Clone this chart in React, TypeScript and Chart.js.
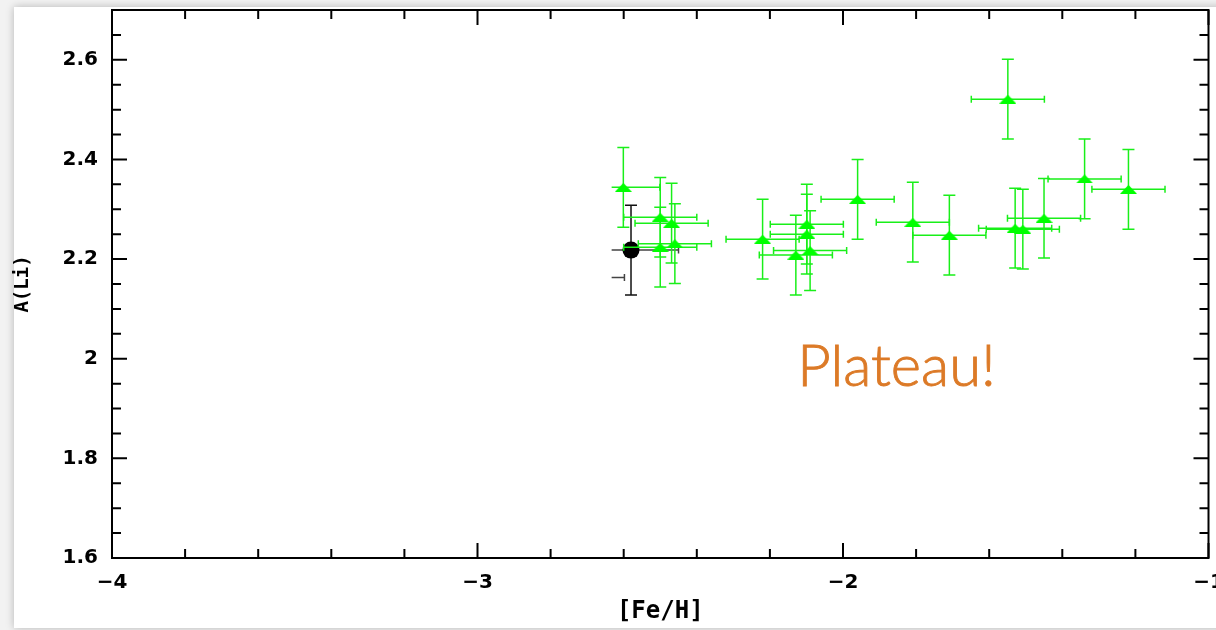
import React, { useEffect, useRef } from "react";
import { Chart, registerables } from "chart.js";

Chart.register(...registerables);

// ---- data ----
const greenFeH = [-2.601, -2.5, -2.469, -2.5, -2.46, -2.22, -2.129, -2.099, -2.099, -2.09, -1.96, -1.549, -1.809, -1.709, -1.529, -1.508, -1.45, -1.339, -1.219];
const greenALi = [2.344, 2.284, 2.272, 2.224, 2.231, 2.24, 2.208, 2.27, 2.25, 2.217, 2.32, 2.521, 2.274, 2.248, 2.262, 2.26, 2.282, 2.361, 2.34];
const greenFeHErr = [0.1, 0.1, 0.1, 0.1, 0.1, 0.1, 0.1, 0.1, 0.1, 0.1, 0.1, 0.1, 0.1, 0.1, 0.1, 0.1, 0.1, 0.1, 0.1];
const greenALiErr = [0.08, 0.08, 0.08, 0.08, 0.08, 0.08, 0.08, 0.08, 0.08, 0.08, 0.08, 0.08, 0.08, 0.08, 0.08, 0.08, 0.08, 0.08, 0.08];

const blackFeH = [-2.58, -2.728];
const blackALi = [2.218, 2.163];
const blackFeHErr = [0.13, 0.13];
const blackALiErr = [0.09, 0.09];
const blackRadius = [8.5, 0];

// the original plot crops everything left of this [Fe/H]
const clipFeH = -2.633;

const xMin = -4;
const xMax = -1;
const yMin = 1.6;
const yMax = 2.7;
const xTickValues = [-4, -3, -2, -1];
const xTickLabels = ["\u22124", "\u22123", "\u22122", "\u22121"];
const yTickValues = [1.6, 1.8, 2.0, 2.2, 2.4, 2.6];
const yTickLabels = ["1.6", "1.8", "2", "2.2", "2.4", "2.6"];
const xMinorStep = 0.2;
const yMinorStep = 0.05;

const xTitle = "[Fe/H]";
const yTitle = "A(Li)";
const noteText = "Plateau!";
const noteFeH = -2.125;
const noteALi = 1.946;

const errorBarPlugin = {
  id: "errorBars",
  beforeDatasetDraw(chart: any, args: any) {
    const ds = chart.data.datasets[args.index];
    if (!ds.errX) return;
    const { ctx, chartArea } = chart;
    const x = chart.scales.x;
    const y = chart.scales.y;
    const left = Math.max(chartArea.left, x.getPixelForValue(clipFeH));
    ctx.save();
    ctx.beginPath();
    ctx.rect(left, chartArea.top, chartArea.right - left, chartArea.bottom - chartArea.top);
    ctx.clip();
    ctx.lineWidth = 1.5;
    ds.data.forEach((p: any, i: number) => {
      const px = x.getPixelForValue(p.x);
      const py = y.getPixelForValue(p.y);
      const x0 = x.getPixelForValue(p.x - ds.errX[i]);
      const x1 = x.getPixelForValue(p.x + ds.errX[i]);
      const y0 = y.getPixelForValue(p.y - ds.errY[i]);
      const y1 = y.getPixelForValue(p.y + ds.errY[i]);
      ctx.strokeStyle = ds.errColorX;
      ctx.beginPath();
      ctx.moveTo(x0, py);
      ctx.lineTo(x1, py);
      ctx.moveTo(x0, py - 3.5);
      ctx.lineTo(x0, py + 3.5);
      ctx.moveTo(x1, py - 3.5);
      ctx.lineTo(x1, py + 3.5);
      ctx.stroke();
      ctx.strokeStyle = ds.errColorY;
      ctx.beginPath();
      ctx.moveTo(px, y0);
      ctx.lineTo(px, y1);
      ctx.moveTo(px - 6, y0);
      ctx.lineTo(px + 6, y0);
      ctx.moveTo(px - 6, y1);
      ctx.lineTo(px + 6, y1);
      ctx.stroke();
    });
    ctx.restore();
  },
};

const framePlugin = {
  id: "frame",
  afterDraw(chart: any) {
    const { ctx, chartArea } = chart;
    const x = chart.scales.x;
    const y = chart.scales.y;
    const { left, right, top, bottom } = chartArea;
    ctx.save();
    ctx.strokeStyle = "#000";
    ctx.lineWidth = 2;
    ctx.strokeRect(left, top, right - left, bottom - top);
    ctx.beginPath();
    const nx = Math.round((xMax - xMin) / xMinorStep);
    for (let k = 0; k <= nx; k++) {
      const v = xMin + k * xMinorStep;
      const major = Math.abs(v - Math.round(v)) < 1e-6;
      const len = major ? 15 : 9;
      const px = x.getPixelForValue(v);
      ctx.moveTo(px, bottom);
      ctx.lineTo(px, bottom - len);
      ctx.moveTo(px, top);
      ctx.lineTo(px, top + len);
    }
    const ny = Math.round((yMax - yMin) / yMinorStep);
    for (let k = 0; k <= ny; k++) {
      const v = yMin + k * yMinorStep;
      const major = k % 4 === 0;
      const len = major ? 15 : 9;
      const py = y.getPixelForValue(v);
      ctx.moveTo(left, py);
      ctx.lineTo(left + len, py);
      ctx.moveTo(right, py);
      ctx.lineTo(right - len, py);
    }
    ctx.stroke();
    ctx.restore();
  },
  afterDatasetsDraw(chart: any) {
    const { ctx } = chart;
    const x = chart.scales.x;
    const y = chart.scales.y;
    ctx.save();
    ctx.fillStyle = "#dc7a27";
    ctx.strokeStyle = "#dc7a27";
    ctx.lineWidth = 0.9;
    ctx.font = "300 58px Lato, 'Liberation Sans', sans-serif";
    ctx.textAlign = "left";
    ctx.textBaseline = "alphabetic";
    const tx = x.getPixelForValue(noteFeH);
    const ty = y.getPixelForValue(noteALi);
    ctx.fillText(noteText, tx, ty);
    ctx.strokeText(noteText, tx, ty);
    ctx.restore();
  },
};

function makeTriangle(): HTMLCanvasElement {
  const c = document.createElement("canvas");
  c.width = 17;
  c.height = 9;
  const g = c.getContext("2d")!;
  g.fillStyle = "#00ff00";
  g.beginPath();
  g.moveTo(0, 9);
  g.lineTo(8.5, 0);
  g.lineTo(17, 9);
  g.closePath();
  g.fill();
  return c;
}

export default function App() {
  const ref = useRef<HTMLCanvasElement | null>(null);

  useEffect(() => {
    if (!ref.current) return;
    const tri = makeTriangle();
    const zeroPad = (s: any) => {
      s.paddingLeft = 0;
      s.paddingRight = 0;
      s.paddingTop = 0;
      s.paddingBottom = 0;
    };
    const chart = new Chart(ref.current, {
      type: "scatter",
      data: {
        datasets: [
          {
            label: "green",
            data: greenFeH.map((v, i) => ({ x: v, y: greenALi[i] })),
            pointStyle: tri as any,
            pointRadius: 8,
            backgroundColor: "#00ff00",
            borderColor: "#00ff00",
            errX: greenFeHErr,
            errY: greenALiErr,
            errColorX: "#19ef19",
            errColorY: "#19ef19",
          } as any,
          {
            label: "black",
            data: blackFeH.map((v, i) => ({ x: v, y: blackALi[i] })),
            pointStyle: "circle",
            pointRadius: blackRadius,
            borderWidth: 0,
            backgroundColor: "#000",
            borderColor: "#000",
            errX: blackFeHErr,
            errY: blackALiErr,
            errColorX: "#444",
            errColorY: "#111",
          } as any,
        ],
      },
      options: {
        animation: false,
        responsive: false,
        events: [],
        layout: { padding: { left: 0, top: 10, right: 27.5, bottom: 0 } },
        plugins: { legend: { display: false }, tooltip: { enabled: false } },
        scales: {
          x: {
            type: "linear",
            min: xMin,
            max: xMax,
            grid: { display: false, drawTicks: false },
            border: { display: false },
            afterBuildTicks: (s: any) => {
              s.ticks = xTickValues.map((v) => ({ value: v }));
            },
            afterFit: (s: any) => {
              s.height = 72;
              zeroPad(s);
            },
            ticks: {
              autoSkip: false,
              maxRotation: 0,
              padding: 13,
              color: "#000",
              font: { family: "'DejaVu Sans', sans-serif", weight: "bold", size: 20 },
              callback: (_v: any, i: number) => xTickLabels[i],
            },
            title: {
              display: true,
              text: xTitle,
              color: "#000",
              font: { family: "'DejaVu Sans Mono', monospace", weight: "bold", size: 24 },
              padding: { top: 0, bottom: 4 },
            },
          },
          y: {
            type: "linear",
            min: yMin,
            max: yMax,
            grid: { display: false, drawTicks: false },
            border: { display: false },
            afterBuildTicks: (s: any) => {
              s.ticks = yTickValues.map((v) => ({ value: v }));
            },
            afterFit: (s: any) => {
              s.width = 112;
              zeroPad(s);
            },
            ticks: {
              autoSkip: false,
              padding: 14,
              color: "#000",
              font: { family: "'DejaVu Sans', sans-serif", weight: "bold", size: 20 },
              callback: (_v: any, i: number) => yTickLabels[i],
            },
            title: {
              display: true,
              text: yTitle,
              color: "#000",
              font: { family: "'DejaVu Sans Mono', monospace", weight: "bold", size: 19 },
              padding: { top: 12, bottom: 0 },
            },
          },
        },
      },
      plugins: [errorBarPlugin, framePlugin],
    });
    return () => chart.destroy();
  }, []);

  return (
    <div
      style={{
        position: "fixed",
        left: 0,
        top: 0,
        width: 1216,
        height: 630,
        overflow: "hidden",
        background: "#f2f2f2",
      }}
    >
      <div
        style={{
          position: "absolute",
          left: 14,
          top: 7,
          width: 1240,
          height: 621,
          background: "#fff",
          boxShadow: "0 0 8px rgba(0,0,0,0.25)",
        }}
      />
      <canvas
        ref={ref}
        width={1236}
        height={630}
        style={{ position: "absolute", left: 0, top: 0, width: 1236, height: 630 }}
      />
    </div>
  );
}
